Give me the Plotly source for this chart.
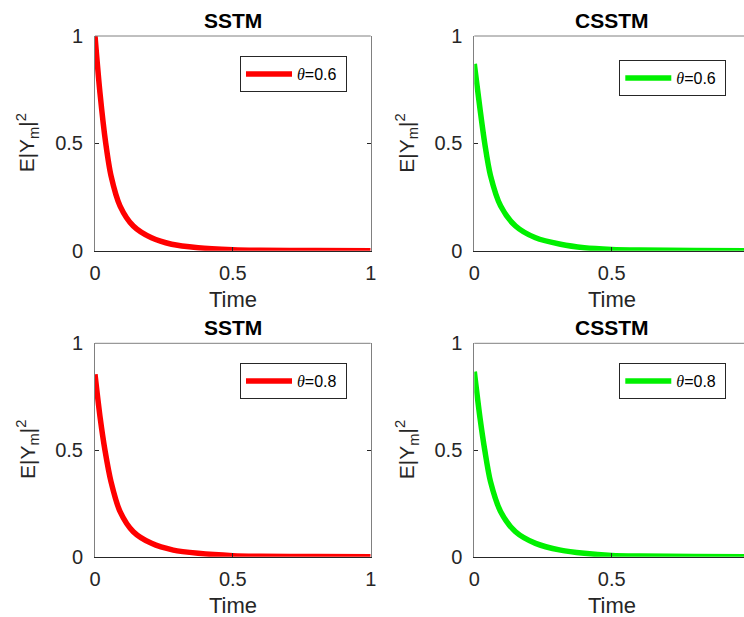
import plotly.graph_objects as go

W, H = 744, 617

# ---- data ----
sstm_06_x = [0, 0.018, 0.039, 0.058, 0.091, 0.139, 0.205, 0.278, 0.374, 0.5, 0.6, 0.8, 1.0]
sstm_06_y = [1.0, 0.736, 0.5, 0.35, 0.208, 0.115, 0.06, 0.03, 0.014, 0.005, 0.002, 0.0005, 0.0]

csstm_06_x = [0, 0.021, 0.038, 0.059, 0.096, 0.150, 0.223, 0.314, 0.40, 0.5, 0.6, 0.8, 1.0]
csstm_06_y = [0.87, 0.658, 0.5, 0.35, 0.208, 0.115, 0.06, 0.03, 0.014, 0.006, 0.003, 0.001, 0.0]

sstm_08_x = [0, 0.019, 0.036, 0.058, 0.091, 0.139, 0.205, 0.284, 0.374, 0.5, 0.6, 0.8, 1.0]
sstm_08_y = [0.855, 0.648, 0.5, 0.352, 0.211, 0.117, 0.0625, 0.031, 0.016, 0.005, 0.002, 0.0005, 0.0]

csstm_08_x = [0, 0.021, 0.038, 0.059, 0.096, 0.150, 0.223, 0.314, 0.40, 0.5, 0.6, 0.8, 1.0]
csstm_08_y = [0.867, 0.648, 0.5, 0.352, 0.211, 0.117, 0.0625, 0.031, 0.016, 0.006, 0.003, 0.001, 0.0]

titles = ["SSTM", "CSSTM", "SSTM", "CSSTM"]
legend_labels = ["0.6", "0.6", "0.8", "0.8"]
tick_vals = [0, 0.5, 1]
tick_text = ["0", "0.5", "1"]
x_title = "Time"
y_title = "E|Y<sub>m</sub>|<sup>2</sup>"

RED = "#ff0000"
GREEN = "#00f000"
DARK = "#262626"
GRAY = "#808080"
FONT = "Liberation Sans, Arial, sans-serif"

# pixel geometry of the four panels: (left, right, top, bottom)
panels = [
    (95.0, 370.7, 36.0, 250.7),
    (474.3, 744.0, 36.0, 250.7),
    (95.0, 370.7, 343.3, 556.7),
    (474.3, 744.0, 343.3, 556.7),
]
xranges = [[0, 1], [0, (744.0 - 474.3) / 274.8], [0, 1], [0, (744.0 - 474.3) / 274.8]]
legend_tops = [56, 60, 363, 363]

series = [
    (sstm_06_x, sstm_06_y, RED),
    (csstm_06_x, csstm_06_y, GREEN),
    (sstm_08_x, sstm_08_y, RED),
    (csstm_08_x, csstm_08_y, GREEN),
]

fig = go.Figure()
annotations = []
shapes = []
legend_keys = ["legend", "legend2", "legend3", "legend4"]

for i, ((xs, ys, col), (l, r, t, b)) in enumerate(zip(series, panels)):
    n = "" if i == 0 else str(i + 1)
    xa, ya = "x" + n, "y" + n
    fig.add_trace(go.Scatter(
        x=xs, y=ys, mode="lines",
        line=dict(color=col, width=5.5, shape="spline", smoothing=0.8),
        name='<span style="font-family:Liberation Serif"><i>θ</i></span>=' + legend_labels[i] + " ",
        xaxis=xa, yaxis=ya, legend=legend_keys[i], showlegend=True,
    ))
    dom_x = [l / W, r / W]
    dom_y = [1 - b / H, 1 - t / H]
    right_col = (i % 2 == 1)
    fig.layout["xaxis" + n] = dict(
        domain=dom_x, range=xranges[i], anchor=ya,
        tickvals=tick_vals, ticktext=tick_text, ticks="inside", ticklen=4,
        tickcolor=DARK, showline=True, linecolor=DARK, linewidth=1, mirror=False,
        showgrid=False, zeroline=False, automargin=False,
        tickfont=dict(family=FONT, size=20, color=DARK), ticklabelstandoff=4,
    )
    fig.layout["yaxis" + n] = dict(
        domain=dom_y, range=[0, 1], anchor=xa,
        tickvals=tick_vals, ticktext=tick_text, ticks="inside", ticklen=4,
        tickcolor=DARK, showline=True, linecolor=GRAY, linewidth=1,
        mirror=(not right_col) and "ticks" or False,
        showgrid=False, zeroline=False, automargin=False,
        tickfont=dict(family=FONT, size=20, color=DARK), ticklabelstandoff=7,
    )
    # top border of the box
    shapes.append(dict(type="line", xref="paper", yref="paper",
                       x0=dom_x[0], x1=dom_x[1], y0=dom_y[1], y1=dom_y[1],
                       line=dict(color=GRAY, width=1)))
    cx = (l + r) / 2 if not right_col else (474.3 + 474.3 + 274.8) / 2
    # title
    annotations.append(dict(text="<b>" + titles[i] + "</b>", xref="paper", yref="paper",
                            x=cx / W, y=1 - (t - 16) / H, xanchor="center", yanchor="middle",
                            showarrow=False, font=dict(family=FONT, size=21, color="#000000")))
    # x title
    annotations.append(dict(text=x_title, xref="paper", yref="paper",
                            x=cx / W, y=1 - (b + 49) / H, xanchor="center", yanchor="middle",
                            showarrow=False, font=dict(family=FONT, size=22, color=DARK)))
    # y title
    annotations.append(dict(text=y_title, xref="paper", yref="paper", textangle=-90,
                            x=(l - 68) / W, y=1 - ((t + b) / 2) / H, xanchor="center", yanchor="middle",
                            showarrow=False, font=dict(family=FONT, size=21, color=DARK)))
    # legend
    lx = (l + 145) / W
    ly = 1 - legend_tops[i] / H
    fig.layout[legend_keys[i]] = dict(
        x=lx, y=ly, xanchor="left", yanchor="top",
        bgcolor="white", bordercolor=DARK, borderwidth=1,
        font=dict(family=FONT, size=16, color="#000000"),
        itemwidth=46, tracegroupgap=0,
    )

fig.update_layout(
    width=W, height=H,
    margin=dict(l=0, r=0, t=0, b=0, pad=0, autoexpand=False),
    paper_bgcolor="white", plot_bgcolor="white",
    annotations=annotations, shapes=shapes,
)

fig.write_html(
    "out.html",
    config={"displayModeBar": False},
    post_script="document.body.style.margin='0';document.body.style.padding='0';document.body.style.overflow='hidden';",
)
